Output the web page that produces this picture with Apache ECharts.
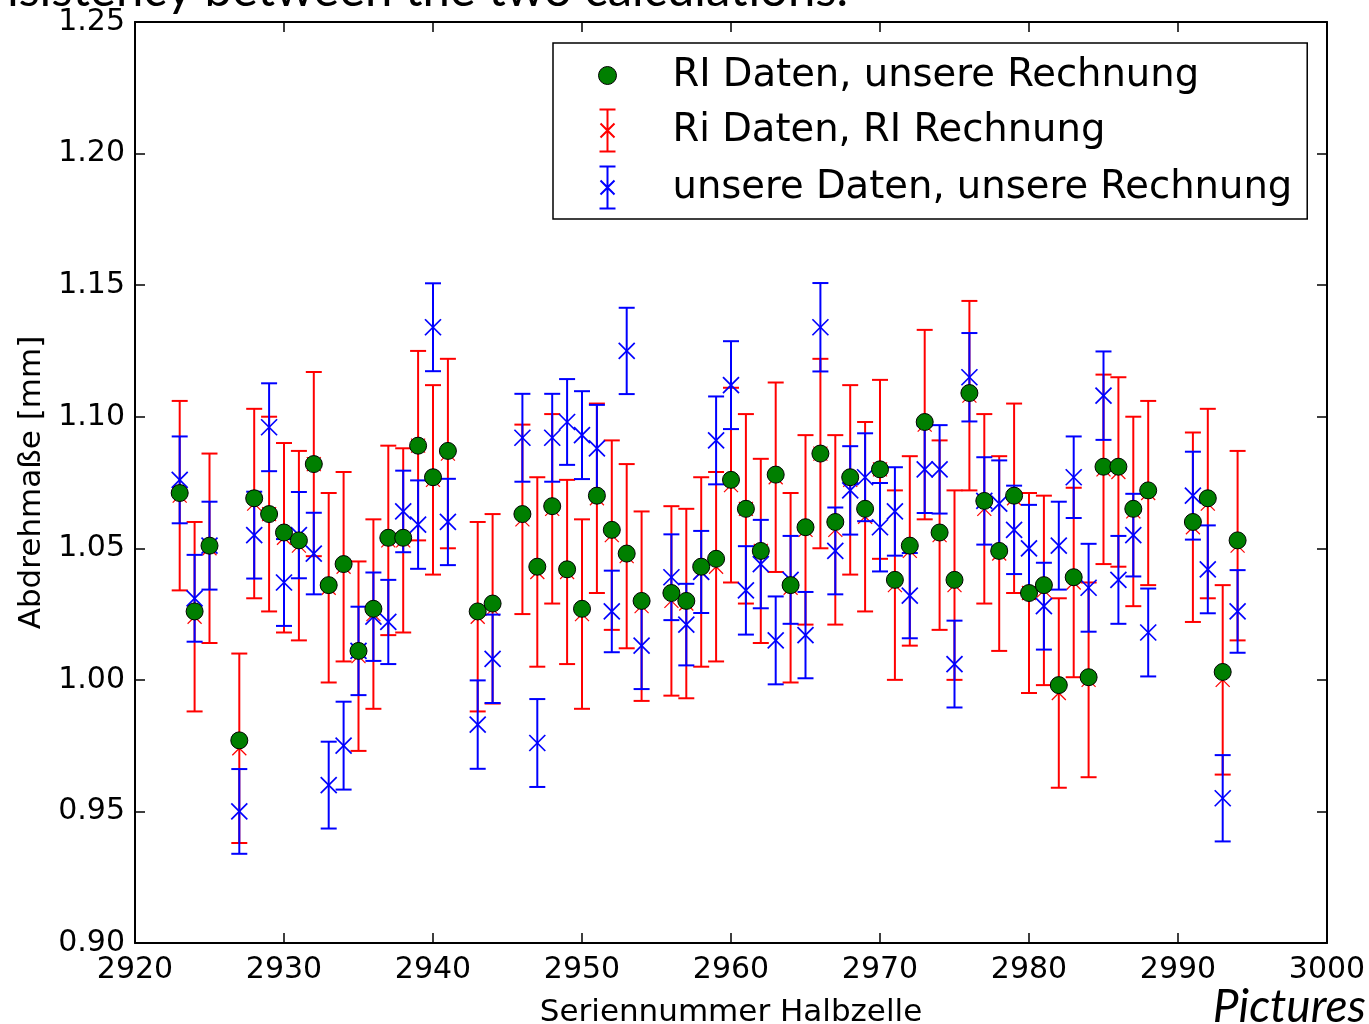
<!DOCTYPE html>
<html>
<head>
<meta charset="utf-8">
<title>Abdrehmaße Halbzellen</title>
<script src="https://cdn.jsdelivr.net/npm/echarts@6/dist/echarts.min.js"></script>
<style>
  html, body { margin: 0; padding: 0; background: #fff; }
  #chart { width: 1369px; height: 1024px; }
</style>
</head>
<body>
<div id="chart"></div>
<script>
// Serial numbers of the half cells
const serial = [2923, 2924, 2925, 2927, 2928, 2929, 2930, 2931, 2932, 2933, 2934, 2935, 2936, 2937, 2938,
  2939, 2940, 2941, 2943, 2944, 2946, 2947, 2948, 2949, 2950, 2951, 2952, 2953, 2954, 2956, 2957,
  2958, 2959, 2960, 2961, 2962, 2963, 2964, 2965, 2966, 2967, 2968, 2969, 2970, 2971, 2972, 2973,
  2974, 2975, 2976, 2977, 2978, 2979, 2980, 2981, 2982, 2983, 2984, 2985, 2986, 2987, 2988, 2991,
  2992, 2993, 2994];

// RI data, evaluated with our calculation [mm]
const riDataOurCalc = [1.071, 1.026, 1.051, 0.977, 1.069, 1.063, 1.056, 1.053, 1.082, 1.036, 1.044, 1.011, 1.027, 1.054, 1.054,
  1.089, 1.077, 1.087, 1.026, 1.029, 1.063, 1.043, 1.066, 1.042, 1.027, 1.070, 1.057, 1.048, 1.030, 1.033, 1.030,
  1.043, 1.046, 1.076, 1.065, 1.049, 1.078, 1.036, 1.058, 1.086, 1.060, 1.077, 1.065, 1.080, 1.038, 1.051, 1.098,
  1.056, 1.038, 1.109, 1.068, 1.049, 1.070, 1.033, 1.036, 0.998, 1.039, 1.001, 1.081, 1.081, 1.065, 1.072, 1.060,
  1.069, 1.003, 1.053];

// RI data, RI calculation [mm] and its uncertainty
const riDataRiCalc = [1.070, 1.024, 1.050, 0.974, 1.067, 1.063, 1.054, 1.051, 1.082, 1.035, 1.043, 1.009, 1.025, 1.053, 1.053,
  1.089, 1.076, 1.086, 1.024, 1.027, 1.061, 1.041, 1.065, 1.041, 1.025, 1.069, 1.055, 1.047, 1.028, 1.030, 1.029,
  1.041, 1.043, 1.074, 1.065, 1.049, 1.077, 1.035, 1.057, 1.086, 1.057, 1.076, 1.062, 1.080, 1.036, 1.049, 1.097,
  1.055, 1.036, 1.108, 1.065, 1.048, 1.069, 1.033, 1.034, 0.995, 1.037, 1.000, 1.080, 1.079, 1.064, 1.071, 1.058,
  1.067, 1.000, 1.051];
const riDataRiCalcErr = [0.036, 0.036, 0.036, 0.036, 0.036, 0.037, 0.036, 0.036, 0.035, 0.036, 0.036, 0.036, 0.036, 0.036, 0.035,
  0.036, 0.036, 0.036, 0.036, 0.036, 0.036, 0.036, 0.036, 0.035, 0.036, 0.036, 0.036, 0.035, 0.036, 0.036, 0.036,
  0.036, 0.036, 0.037, 0.036, 0.035, 0.036, 0.036, 0.036, 0.036, 0.036, 0.036, 0.036, 0.034, 0.036, 0.036, 0.036,
  0.036, 0.036, 0.036, 0.036, 0.037, 0.036, 0.038, 0.036, 0.036, 0.036, 0.037, 0.036, 0.036, 0.036, 0.035, 0.036,
  0.036, 0.036, 0.036];

// Our data, our calculation [mm] and its uncertainty
const ourDataOurCalc = [1.076, 1.031, 1.051, 0.950, 1.055, 1.096, 1.037, 1.055, 1.048, 0.960, 0.975, 1.011, 1.024, 1.022, 1.064,
  1.059, 1.134, 1.060, 0.983, 1.008, 1.092, 0.976, 1.092, 1.098, 1.093, 1.088, 1.026, 1.125, 1.013, 1.039, 1.021,
  1.041, 1.091, 1.112, 1.034, 1.044, 1.015, 1.038, 1.017, 1.134, 1.049, 1.072, 1.077, 1.058, 1.064, 1.032, 1.080,
  1.080, 1.006, 1.115, 1.068, 1.067, 1.057, 1.050, 1.028, 1.051, 1.077, 1.035, 1.108, 1.038, 1.055, 1.018, 1.070,
  1.042, 0.955, 1.026];
const ourDataOurCalcErr = [0.0165, 0.0165, 0.0167, 0.0161, 0.0165, 0.0167, 0.0165, 0.0164, 0.0155, 0.0165, 0.0167, 0.0168, 0.0168, 0.0160, 0.0155,
  0.0168, 0.0167, 0.0164, 0.0168, 0.0168, 0.0167, 0.0167, 0.0167, 0.0163, 0.0167, 0.0165, 0.0155, 0.0164, 0.0165, 0.0163, 0.0155,
  0.0156, 0.0167, 0.0167, 0.0168, 0.0168, 0.0167, 0.0167, 0.0164, 0.0168, 0.0165, 0.0168, 0.0167, 0.0168, 0.0168, 0.0162, 0.0166,
  0.0168, 0.0165, 0.0168, 0.0166, 0.0164, 0.0168, 0.0165, 0.0165, 0.0167, 0.0155, 0.0167, 0.0168, 0.0167, 0.0157, 0.0167, 0.0167,
  0.0167, 0.0164, 0.0157];

// Axis ticks
const xTicks = { min: 2920, max: 3000, step: 10 };
const yTicks = { min: 0.90, max: 1.25, step: 0.05 };

const NAME_GREEN = 'RI Daten, unsere Rechnung';
const NAME_RED = 'Ri Daten, RI Rechnung';
const NAME_BLUE = 'unsere Daten, unsere Rechnung';

const GREEN = '#007f00';
const RED = '#ff0000';
const BLUE = '#0000ff';
const TICK_FONT = '"DejaVu Sans", sans-serif';

// Vertical error bar with caps and an "x" marker at the central value
function errorBar(color, armWidth, arm) {
  return function (params, api) {
    const x = api.value(0), y = api.value(1), e = api.value(2);
    const c = api.coord([x, y]);
    const hi = api.coord([x, y + e]);
    const lo = api.coord([x, y - e]);
    const cap = 8;
    const bar = { stroke: color, lineWidth: 2, fill: null };
    const mark = { stroke: color, lineWidth: armWidth, fill: null };
    return {
      type: 'group',
      children: [
        { type: 'line', shape: { x1: c[0], y1: hi[1], x2: c[0], y2: lo[1] }, style: bar },
        { type: 'line', shape: { x1: c[0] - cap, y1: hi[1], x2: c[0] + cap, y2: hi[1] }, style: bar },
        { type: 'line', shape: { x1: c[0] - cap, y1: lo[1], x2: c[0] + cap, y2: lo[1] }, style: bar },
        { type: 'line', shape: { x1: c[0] - arm, y1: c[1] - arm, x2: c[0] + arm, y2: c[1] + arm }, style: mark },
        { type: 'line', shape: { x1: c[0] - arm, y1: c[1] + arm, x2: c[0] + arm, y2: c[1] - arm }, style: mark }
      ]
    };
  };
}

const greenData = serial.map((s, i) => [s, riDataOurCalc[i]]);
const redData = serial.map((s, i) => [s, riDataRiCalc[i], riDataRiCalcErr[i]]);
const blueData = serial.map((s, i) => [s, ourDataOurCalc[i], ourDataOurCalcErr[i]]);

const axisLineStyle = { color: '#000', width: 2 };
const tickStyle = { show: true, inside: true, length: 10, lineStyle: { color: '#000', width: 1.5 } };

// Legend icons: the bare "M" points widen the icon box so the glyph sits
// 42px in from the left of a 102px slot, leaving room before the label.
const SLOT = 'M-42,-21 M60,21 ';
const errIcon = 'path://' + SLOT + 'M-8,-21 L8,-21 M0,-21 L0,21 M-8,21 L8,21 M-7,-7 L7,7 M7,-7 L-7,7';
const dotIcon = 'path://' + SLOT + 'M-9,0 A9,9 0 1 0 9,0 A9,9 0 1 0 -9,0 Z';

const chart = echarts.init(document.getElementById('chart'), null, { renderer: 'canvas' });
chart.setOption({
  animation: false,
  backgroundColor: '#fff',
  grid: { left: 135, right: 42, top: 22, bottom: 81, containLabel: false, outerBoundsMode: 'none' },
  xAxis: [
    {
      type: 'value', min: xTicks.min, max: xTicks.max, interval: xTicks.step,
      position: 'bottom',
      name: 'Seriennummer Halbzelle', nameLocation: 'middle', nameGap: 54,
      nameTextStyle: { fontFamily: TICK_FONT, fontSize: 31, color: '#000' },
      axisLine: { show: true, lineStyle: axisLineStyle },
      axisTick: tickStyle,
      axisLabel: { fontFamily: TICK_FONT, fontSize: 30, color: '#000', margin: 12, formatter: v => String(v) },
      splitLine: { show: false }
    },
    {
      type: 'value', min: xTicks.min, max: xTicks.max, interval: xTicks.step,
      position: 'top',
      axisLine: { show: true, lineStyle: axisLineStyle },
      axisTick: tickStyle,
      axisLabel: { show: false },
      splitLine: { show: false }
    }
  ],
  yAxis: [
    {
      type: 'value', min: yTicks.min, max: yTicks.max, interval: yTicks.step,
      position: 'left',
      name: 'Abdrehmaße [mm]', nameLocation: 'middle', nameGap: 88,
      nameTextStyle: { fontFamily: TICK_FONT, fontSize: 31, color: '#000' },
      axisLine: { show: true, lineStyle: axisLineStyle },
      axisTick: tickStyle,
      axisLabel: {
        fontFamily: TICK_FONT, fontSize: 30, color: '#000', margin: 10,
        formatter: v => v.toFixed(2)
      },
      splitLine: { show: false }
    },
    {
      type: 'value', min: yTicks.min, max: yTicks.max, interval: yTicks.step,
      position: 'right',
      axisLine: { show: true, lineStyle: axisLineStyle },
      axisTick: tickStyle,
      axisLabel: { show: false },
      splitLine: { show: false }
    }
  ],
  legend: {
    orient: 'vertical', left: 553, top: 43,
    padding: [11, 15, 8, 10],
    itemWidth: 102, itemHeight: 42, itemGap: 10,
    borderColor: '#000', borderWidth: 1.5, borderRadius: 0,
    backgroundColor: '#fff',
    selectedMode: false,
    textStyle: { fontFamily: TICK_FONT, fontSize: 38.5, color: '#000' },
    data: [
      { name: NAME_GREEN, icon: dotIcon, itemStyle: { color: GREEN, borderColor: '#000', borderWidth: 1 } },
      { name: NAME_RED, icon: errIcon, itemStyle: { color: 'none', borderColor: RED, borderWidth: 2 } },
      { name: NAME_BLUE, icon: errIcon, itemStyle: { color: 'none', borderColor: BLUE, borderWidth: 2 } }
    ]
  },
  series: [
    {
      name: NAME_RED, type: 'custom', xAxisIndex: 0, yAxisIndex: 0,
      renderItem: errorBar(RED, 1.2, 7),
      encode: { x: 0, y: 1 },
      itemStyle: { color: RED },
      data: redData, z: 2, silent: true
    },
    {
      name: NAME_BLUE, type: 'custom', xAxisIndex: 0, yAxisIndex: 0,
      renderItem: errorBar(BLUE, 1.7, 8),
      encode: { x: 0, y: 1 },
      itemStyle: { color: BLUE },
      data: blueData, z: 3, silent: true
    },
    {
      name: NAME_GREEN, type: 'scatter', xAxisIndex: 0, yAxisIndex: 0,
      symbol: 'circle', symbolSize: 17,
      itemStyle: { color: GREEN, borderColor: '#000', borderWidth: 1, opacity: 1 },
      emphasis: { disabled: true },
      data: greenData, z: 4, silent: true
    }
  ],
  graphic: [
    {
      type: 'text',
      style: {
        text: 'consistency between the two calculations.',
        x: 848, y: -10, align: 'right', verticalAlign: 'middle',
        font: '49px Lato, "Open Sans", sans-serif', fill: '#000'
      }
    },
    {
      type: 'text',
      style: {
        text: 'Pictures',
        x: 1366, y: 1007, align: 'right', verticalAlign: 'middle',
        font: 'italic 46px Lato, "Open Sans", sans-serif', fill: '#000'
      }
    }
  ]
});
</script>
</body>
</html>
